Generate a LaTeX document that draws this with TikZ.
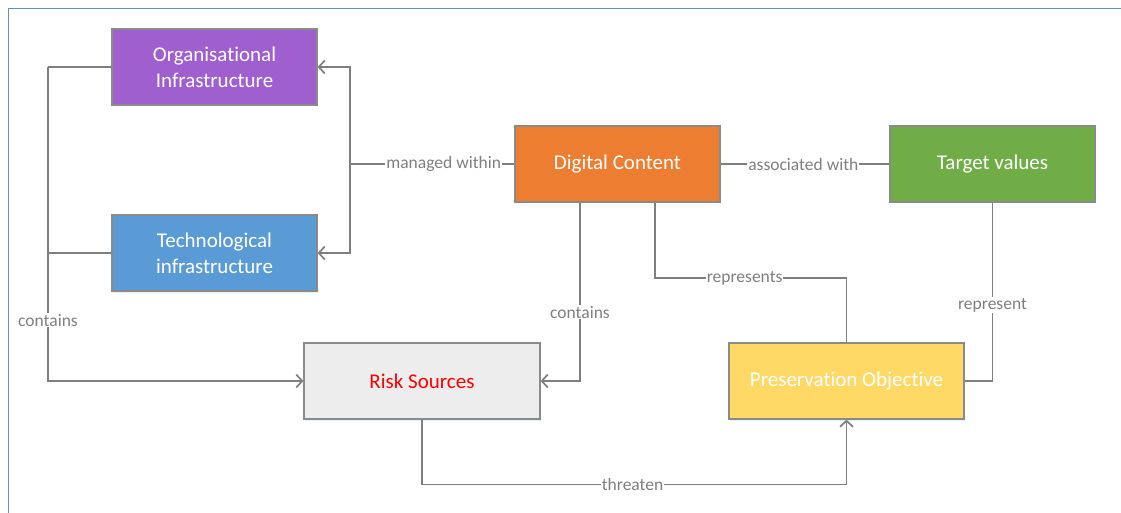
\documentclass[tikz,border=0pt]{standalone}
\usepackage{fontspec}
\setmainfont{Carlito}[Ligatures=NoCommon]
\usetikzlibrary{arrows.meta,shadows}

\definecolor{framecol}{HTML}{6A8DB8}
\definecolor{linecol}{HTML}{7F7F7F}
\definecolor{edgecol}{HTML}{8A8A8A}
\definecolor{orgcol}{HTML}{A05FCF}
\definecolor{techcol}{HTML}{5B9BD5}
\definecolor{dccol}{HTML}{ED7D31}
\definecolor{tvcol}{HTML}{70AD47}
\definecolor{riskcol}{HTML}{EDEDED}
\definecolor{pocol}{HTML}{FFD966}

\tikzset{
  box/.style={draw=edgecol, line width=1.2pt, minimum height=76pt, text=white,
    align=center, inner sep=2pt, font=\fontsize{21}{26}\selectfont,
    drop shadow={shadow xshift=1pt, shadow yshift=-1.5pt, fill=techcol!60, opacity=0.25}},
  conn/.style={draw=linecol, line width=1.7pt},
  arr/.style={conn, -{Straight Barb[length=6pt,width=13pt,line width=1.7pt]}},
  lab/.style={fill=white, text=linecol, inner sep=1pt, font=\fontsize{17.5}{20}\selectfont}
}

\begin{document}
\begin{tikzpicture}[x=1pt, y=-1pt]
  \useasboundingbox (0,0) rectangle (1121,513);
  % outer frame (top and left edges)
  \draw[framecol, line width=1.6pt] (8.5,513) -- (8.5,8.5) -- (1121,8.5);

  % boxes
  \node[box, fill=orgcol, minimum width=205pt] (org) at (214.5,67) {Organisational\\Infrastructure};
  \node[box, fill=techcol, minimum width=205pt] (tech) at (214.5,253) {Technological\\infrastructure};
  \node[box, fill=dccol, minimum width=205pt] (dc) at (617.5,164) {Digital Content};
  \node[box, fill=tvcol, minimum width=205pt] (tv) at (992.5,164) {Target values};
  \node[box, fill=riskcol, text=red, minimum width=236pt] (risk) at (422,381) {Risk Sources};
  \node[box, fill=pocol, minimum width=235pt] (po) at (846.5,381) {Preservation Objective};

  % junction points
  \coordinate (lb) at (48,67);
  \coordinate (mw) at (350,164);
  \coordinate (rp) at (655,278);

  % infrastructures contain risk sources
  \draw[conn] (org.west) -- (lb);
  \draw[conn] (tech.west) -- (tech.west -| lb);
  \draw[arr] (lb) |- node[lab, pos=0.403] {contains} (risk.west);

  % digital content managed within infrastructures
  \draw[conn] (dc.west) -- node[lab, pos=0.43] {managed within} (mw);
  \draw[arr] (mw) |- (org.east);
  \draw[arr] (mw) |- (tech.east);

  % digital content associated with target values
  \draw[conn] (dc.east) -- node[lab, pos=0.49] {associated with} (tv.west);

  % digital content contains risk sources
  \draw[arr] ([xshift=-37.5pt]dc.south) |- node[lab, pos=0.307] {contains} (risk.east);

  % digital content represents preservation objective
  \draw[conn] ([xshift=37.5pt]dc.south) -- (rp) -| node[lab, pos=0.234] {represents} (po.north);

  % target values represent preservation objective
  \draw[conn] (tv.south) |- node[lab, pos=0.288] {represent} (po.east);

  % risk sources threaten preservation objective
  \draw[arr] (risk.south) -- ++(0,65) -| node[lab, pos=0.248] {threaten} (po.south);
\end{tikzpicture}
\end{document}
